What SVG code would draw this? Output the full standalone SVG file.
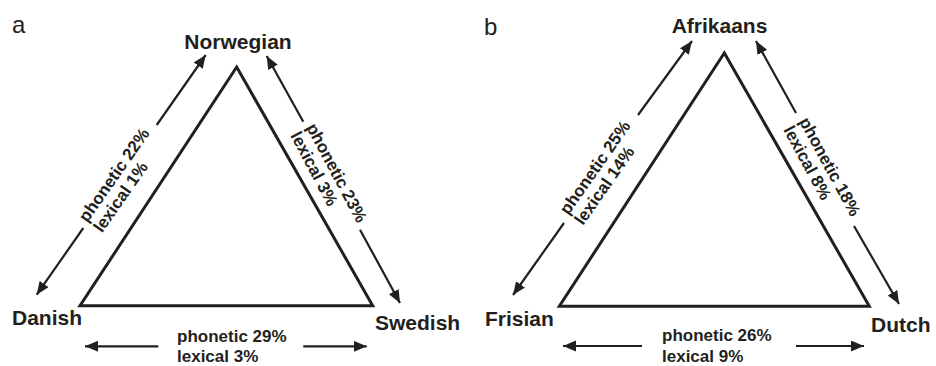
<svg xmlns="http://www.w3.org/2000/svg" width="936" height="366" viewBox="0 0 936 366">
<defs>
<marker id="ah" markerUnits="userSpaceOnUse" markerWidth="14" markerHeight="12" refX="13" refY="5.5" orient="auto">
<path d="M0,0 L13,5.5 L0,11 Z" fill="#231f20"/>
</marker>
<style>
.tri{fill:none;stroke:#231f20;stroke-width:3;stroke-linejoin:miter}
.arr{fill:none;stroke:#231f20;stroke-width:2.2;marker-end:url(#ah)}
.name{font-family:"Liberation Sans",Arial,sans-serif;font-weight:bold;font-size:21px;fill:#231f20}
.lab{font-family:"Liberation Sans",Arial,sans-serif;font-weight:bold;font-size:17px;fill:#231f20}
.pan{font-family:"Liberation Sans",Arial,sans-serif;font-size:24px;fill:#231f20}
</style>
</defs>
<rect width="936" height="366" fill="#ffffff"/>

<g id="panel-a">
<text class="pan" x="12" y="33">a</text>
<g id="triangle-a"><path class="tri" d="M236.7,67 L80,305.7 L372.7,305.7 Z"/></g>
<g id="norwegian"><text class="name" x="238" y="49" text-anchor="middle">Norwegian</text></g>
<g id="danish"><text class="name" x="12" y="325">Danish</text></g>
<g id="swedish"><text class="name" x="375" y="330">Swedish</text></g>
</g>

<g id="panel-b">
<text class="pan" x="484" y="35">b</text>
<g id="triangle-b"><path class="tri" d="M724.3,53 L559.3,306.3 L869.3,306.3 Z"/></g>
<g id="afrikaans"><text class="name" x="719.5" y="33" text-anchor="middle">Afrikaans</text></g>
<g id="frisian"><text class="name" x="485" y="326">Frisian</text></g>
<g id="dutch"><text class="name" x="871" y="332">Dutch</text></g>
</g>

<g id="connectors">
<line class="arr" x1="156.7" y1="125" x2="205.7" y2="55"/>
<line class="arr" x1="83.3" y1="228" x2="36.7" y2="294.7"/>
<line class="arr" x1="303.3" y1="121.7" x2="266.7" y2="56"/>
<line class="arr" x1="360" y1="229.7" x2="400" y2="303"/>
<line class="arr" x1="158.3" y1="346.3" x2="85" y2="346.3"/>
<line class="arr" x1="303.3" y1="346.3" x2="366.7" y2="346.3"/>

<line class="arr" x1="638" y1="115" x2="692" y2="41"/>
<line class="arr" x1="564" y1="223" x2="513" y2="295"/>
<line class="arr" x1="796" y1="113" x2="756" y2="41"/>
<line class="arr" x1="854" y1="226" x2="899" y2="304"/>
<line class="arr" x1="642" y1="346" x2="563" y2="346"/>
<line class="arr" x1="796" y1="346" x2="864" y2="346"/>
</g>

<g id="labels">
<g transform="translate(120,176.5) rotate(-55)">
<text class="lab" x="-57" y="0">phonetic 22%</text>
<text class="lab" x="-57" y="18">lexical 1%</text>
</g>
<g transform="translate(331.7,175.7) rotate(62)">
<text class="lab" x="-55" y="0">phonetic 23%</text>
<text class="lab" x="-55" y="18">lexical 3%</text>
</g>
<text class="lab" x="177" y="342">phonetic 29%</text>
<text class="lab" x="177" y="362">lexical 3%</text>

<g transform="translate(601,169) rotate(-55)">
<text class="lab" x="-57" y="0">phonetic 25%</text>
<text class="lab" x="-57" y="18">lexical 14%</text>
</g>
<g transform="translate(825,169.5) rotate(61.5)">
<text class="lab" x="-55" y="0">phonetic 18%</text>
<text class="lab" x="-55" y="18">lexical 8%</text>
</g>
<text class="lab" x="662" y="341">phonetic 26%</text>
<text class="lab" x="662" y="362">lexical 9%</text>
</g>
</svg>
